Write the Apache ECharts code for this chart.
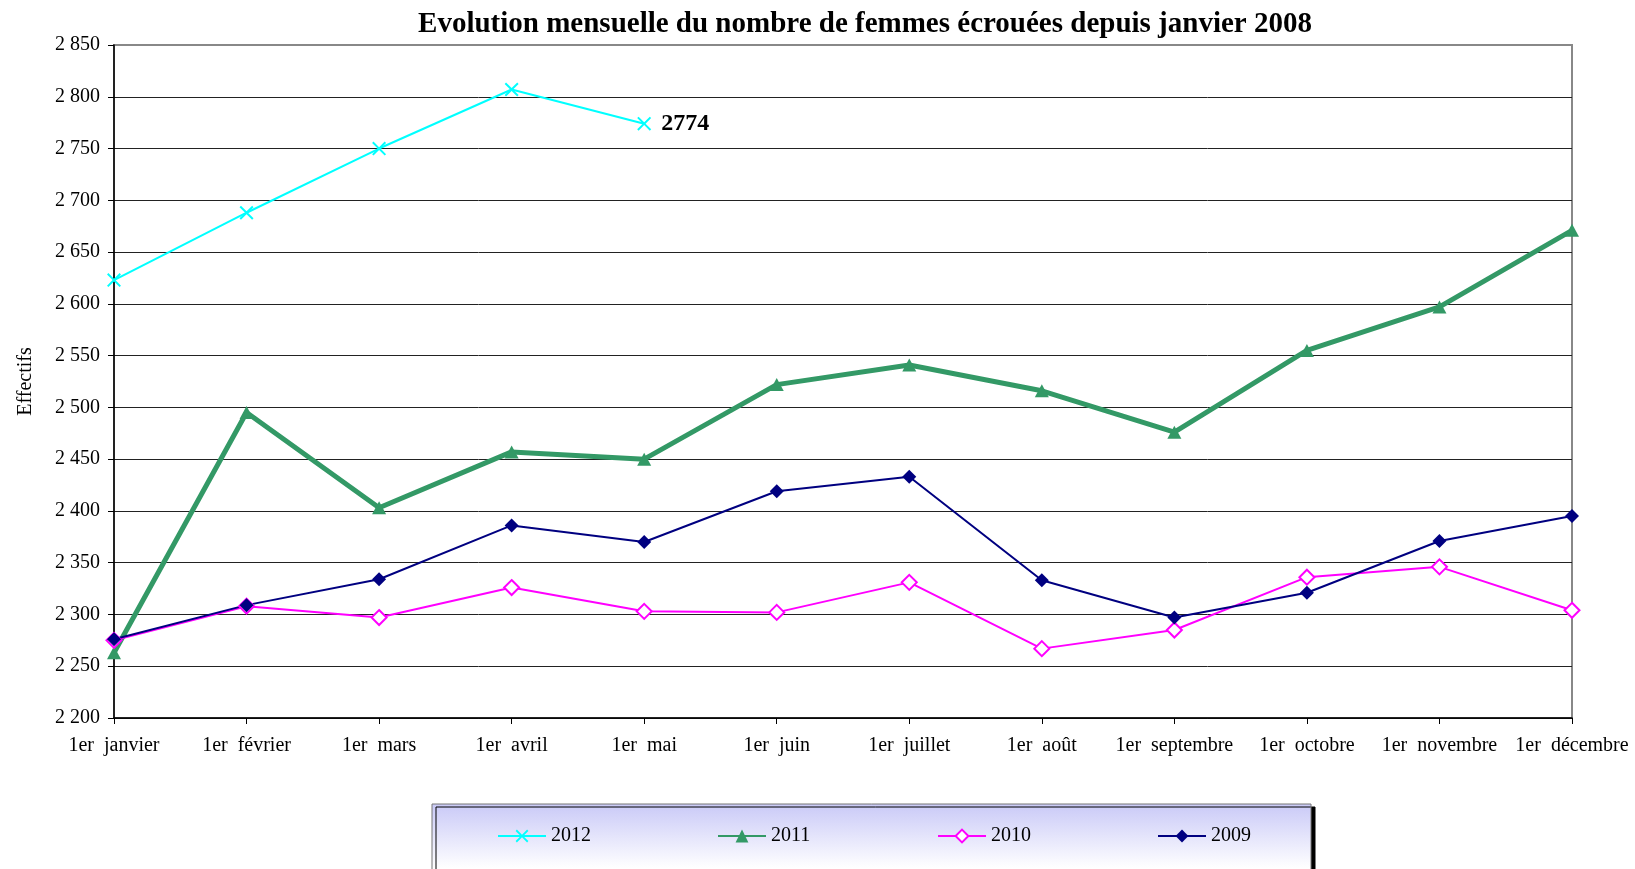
<!DOCTYPE html>
<html>
<head>
<meta charset="utf-8">
<title>Femmes écrouées</title>
<script src="https://cdn.jsdelivr.net/npm/echarts@6/dist/echarts.min.js"></script>
<style>
  html, body { margin: 0; padding: 0; background: #fff; }
  #chart { width: 1635px; height: 869px; }
</style>
</head>
<body>
<div id="chart"></div>
<script>
const months = ['1er  janvier', '1er  février', '1er  mars', '1er  avril', '1er  mai', '1er  juin',
  '1er  juillet', '1er  août', '1er  septembre', '1er  octobre', '1er  novembre', '1er  décembre']
const yTicks = { min: 2200, max: 2850, step: 50 }

const d2012 = [2623, 2688, 2750, 2807, 2774]
const d2011 = [2263, 2495, 2403, 2457, 2450, 2522, 2541, 2516, 2476, 2555, 2597, 2671]
const d2010 = [2275, 2308, 2297, 2326, 2303, 2302, 2331, 2267, 2285, 2336, 2346, 2304]
const d2009 = [2276, 2309, 2334, 2386, 2370, 2419, 2433, 2333, 2297, 2321, 2371, 2395]

const font = 'Liberation Serif'
// croix pleine pour 2012
const crossPath = 'path://M0,1 L1,0 L5,4 L9,0 L10,1 L6,5 L10,9 L9,10 L5,6 L1,10 L0,9 L4,5 Z'

const chart = echarts.init(document.getElementById('chart'))

const legendAt = (name, x) => ({
  data: [name],
  left: x,
  top: 826,
  padding: 0,
  itemWidth: 48,
  itemHeight: 16,
  z: 10,
  textStyle: { fontFamily: font, fontSize: 20, color: '#000' }
})

const option = {
  animation: false,
  backgroundColor: '#fff',
  title: {
    text: 'Evolution mensuelle du nombre de femmes écrouées depuis janvier 2008',
    left: 865,
    textAlign: 'center',
    top: 10,
    padding: 0,
    textStyle: { fontFamily: font, fontSize: 29, fontWeight: 'bold', color: '#000' }
  },
  graphic: [
    {
      type: 'rect',
      z: 0,
      shape: { x: 432, y: 804, width: 879, height: 80 },
      style: {
        fill: new echarts.graphic.LinearGradient(0, 0, 0, 1, [
          { offset: 0, color: '#c9c9f7' },
          { offset: 0.8, color: '#ffffff' },
          { offset: 1, color: '#ffffff' }
        ]),
        stroke: '#777',
        lineWidth: 1,
        shadowColor: '#000',
        shadowOffsetX: 4,
        shadowOffsetY: 3,
        shadowBlur: 0
      }
    }
  ],
  legend: [
    legendAt('2012', 497),
    legendAt('2011', 717),
    legendAt('2010', 937),
    legendAt('2009', 1157)
  ],
  grid: {
    left: 114,
    right: 63,
    top: 45,
    bottom: 151,
    show: true,
    borderColor: '#888',
    borderWidth: 2,
    backgroundColor: 'transparent'
  },
  xAxis: {
    type: 'category',
    data: months,
    boundaryGap: false,
    axisLine: { lineStyle: { color: '#000', width: 1.5 } },
    axisTick: { show: true, length: 6, inside: false, lineStyle: { color: '#000' } },
    axisLabel: { interval: 0, margin: 18, fontFamily: font, fontSize: 20, color: '#000' },
    splitLine: { show: false }
  },
  yAxis: {
    type: 'value',
    min: yTicks.min,
    max: yTicks.max,
    interval: yTicks.step,
    name: 'Effectifs',
    nameLocation: 'middle',
    nameGap: 78,
    nameRotate: 90,
    nameTextStyle: { fontFamily: font, fontSize: 20, color: '#000' },
    axisLine: { show: true, lineStyle: { color: '#000', width: 1.5 } },
    axisTick: { show: true, length: 6, lineStyle: { color: '#000' } },
    axisLabel: {
      margin: 14,
      fontFamily: font,
      fontSize: 20,
      color: '#000',
      formatter: v => String(v).replace(/\B(?=(\d{3})+$)/, ' ')
    },
    splitLine: { show: true, showMaxLine: false, lineStyle: { color: '#222', width: 1 } }
  },
  series: [
    {
      name: '2012',
      type: 'line',
      data: d2012.map((v, i) => i === d2012.length - 1
        ? { value: v, label: { show: true, position: 'right', distance: 10, formatter: '{c}', fontFamily: font, fontSize: 24, fontWeight: 'bold', color: '#000' } }
        : v),
      symbol: crossPath,
      symbolSize: 14,
      showAllSymbol: true,
      lineStyle: { color: '#00ffff', width: 2 },
      itemStyle: { color: '#00ffff' }
    },
    {
      name: '2011',
      type: 'line',
      data: d2011,
      symbol: 'triangle',
      symbolSize: [14, 13],
      showAllSymbol: true,
      lineStyle: { color: '#339966', width: 5 },
      itemStyle: { color: '#339966' }
    },
    {
      name: '2010',
      type: 'line',
      data: d2010,
      symbol: 'diamond',
      symbolSize: 15,
      showAllSymbol: true,
      lineStyle: { color: '#ff00ff', width: 2 },
      itemStyle: { color: '#fff', borderColor: '#ff00ff', borderWidth: 2 }
    },
    {
      name: '2009',
      type: 'line',
      data: d2009,
      symbol: 'diamond',
      symbolSize: 14,
      showAllSymbol: true,
      lineStyle: { color: '#000080', width: 2 },
      itemStyle: { color: '#000080' }
    }
  ]
}

chart.setOption(option)
</script>
</body>
</html>
